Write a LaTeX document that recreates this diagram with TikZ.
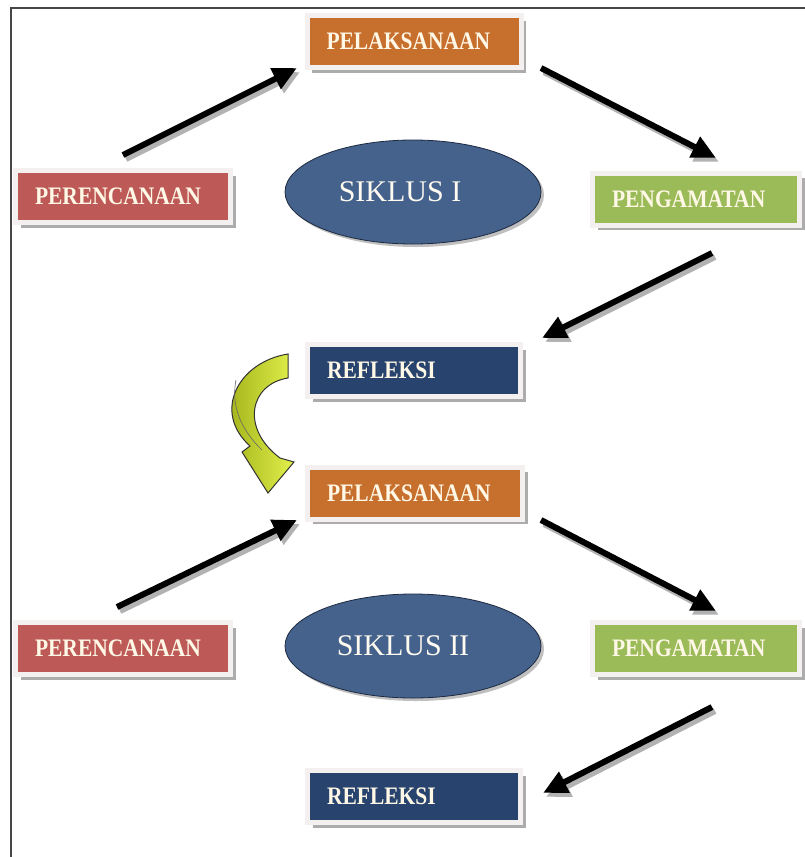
\documentclass[tikz,border=0pt]{standalone}
\usepackage{fontspec}
\setmainfont{Liberation Serif}
\usetikzlibrary{arrows.meta,shadows,shapes.geometric}
\definecolor{pelc}{RGB}{199,111,45}
\definecolor{perc}{RGB}{189,90,87}
\definecolor{penc}{RGB}{155,187,89}
\definecolor{refc}{RGB}{40,68,110}
\definecolor{ellc}{RGB}{68,98,140}
\definecolor{ellb}{RGB}{30,42,64}
\definecolor{txtc}{RGB}{255,248,230}
\definecolor{glow}{RGB}{244,240,240}
\definecolor{framec}{RGB}{70,70,70}
\definecolor{yelA}{RGB}{150,165,15}
\definecolor{yelB}{RGB}{225,240,75}
\newcommand{\boxtxt}[1]{\scalebox{1}[1.17]{#1}}
\begin{document}
\begin{tikzpicture}[x=1pt,y=-1pt,
  boxnode/.style={draw=glow, line width=5pt, minimum height=52pt, inner xsep=19.5pt,
    text width=#1, align=left, text=txtc, font=\bfseries\fontsize{21.5}{24}\selectfont,
    drop shadow={shadow xshift=5pt, shadow yshift=-5pt, fill=gray!65, opacity=1}},
  ellnode/.style={ellipse, fill=ellc, draw=ellb, line width=0.8pt, minimum width=256pt,
    minimum height=104pt, text=txtc!60!white, font=\fontsize{30}{32}\selectfont,
    drop shadow={shadow xshift=3pt, shadow yshift=-3pt, fill=gray!50, opacity=1}},
  bigarrow/.style={line width=6pt, -{Triangle[length=24pt,width=22pt]}, black},
  arrowshadow/.style={line width=6pt, -{Triangle[length=24pt,width=22pt]}, gray!60,
    transform canvas={shift={(3pt,-4pt)}}},
]
\useasboundingbox (0,0) rectangle (805,857);
\fill[white] (0,0) rectangle (805,857);
\draw[framec, line width=2.8pt] (11,857) -- (11,8) -- (805,8);

% cycle I
\node[boxnode=175pt, fill=pelc] (pel1) at (414,41.5) {\boxtxt{PELAKSANAAN}};
\node[boxnode=176pt, fill=perc] (per1) at (123,196.5) {\boxtxt{PERENCANAAN}};
\node[boxnode=168pt, fill=penc] (pen1) at (696,199) {\boxtxt{PENGAMATAN}};
\node[boxnode=174pt, fill=refc] (ref1) at (414,370.5) {\boxtxt{REFLEKSI}};
\node[ellnode] (sik1) at (413,192) {SIKLUS I\kern26pt};

% cycle II
\node[boxnode=176pt, fill=pelc] (pel2) at (415,493) {\boxtxt{PELAKSANAAN}};
\node[boxnode=176pt, fill=perc] (per2) at (123,648.5) {\boxtxt{PERENCANAAN}};
\node[boxnode=168pt, fill=penc] (pen2) at (696,648.5) {\boxtxt{PENGAMATAN}};
\node[boxnode=174pt, fill=refc] (ref2) at (414,796.5) {\boxtxt{REFLEKSI}};
\node[ellnode] (sik2) at (413,646) {SIKLUS II\kern20pt};

% arrow end points
\coordinate (a1s) at (123,155); \coordinate (a1e) at (297,68);
\coordinate (a2s) at (541,68);  \coordinate (a2e) at (716,158);
\coordinate (a3s) at (712,253); \coordinate (a3e) at (542,338);
\coordinate (a4s) at (117,607); \coordinate (a4e) at (297,520);
\coordinate (a5s) at (541,520); \coordinate (a5e) at (716,611);
\coordinate (a6s) at (712,707); \coordinate (a6e) at (543,793);

\foreach \i in {1,...,6}{
  \draw[arrowshadow] (a\i s) -- (a\i e);
}
\foreach \i in {1,...,6}{
  \draw[bigarrow] (a\i s) -- (a\i e);
}

% curved yellow arrow from REFLEKSI to PELAKSANAAN
\shade[left color=yelA, right color=yelB, draw=black!80, line width=1pt]
  (288,354) .. controls (238,362) and (212,412) .. (250,446)
  -- (242,452) -- (268,493) -- (294,462) -- (280,458)
  .. controls (240,428) and (250,384) .. (288,378) -- cycle;
\draw[black!60, line width=0.6pt] (236,380) .. controls (232,400) and (236,425) .. (262,450);
\end{tikzpicture}
\end{document}
